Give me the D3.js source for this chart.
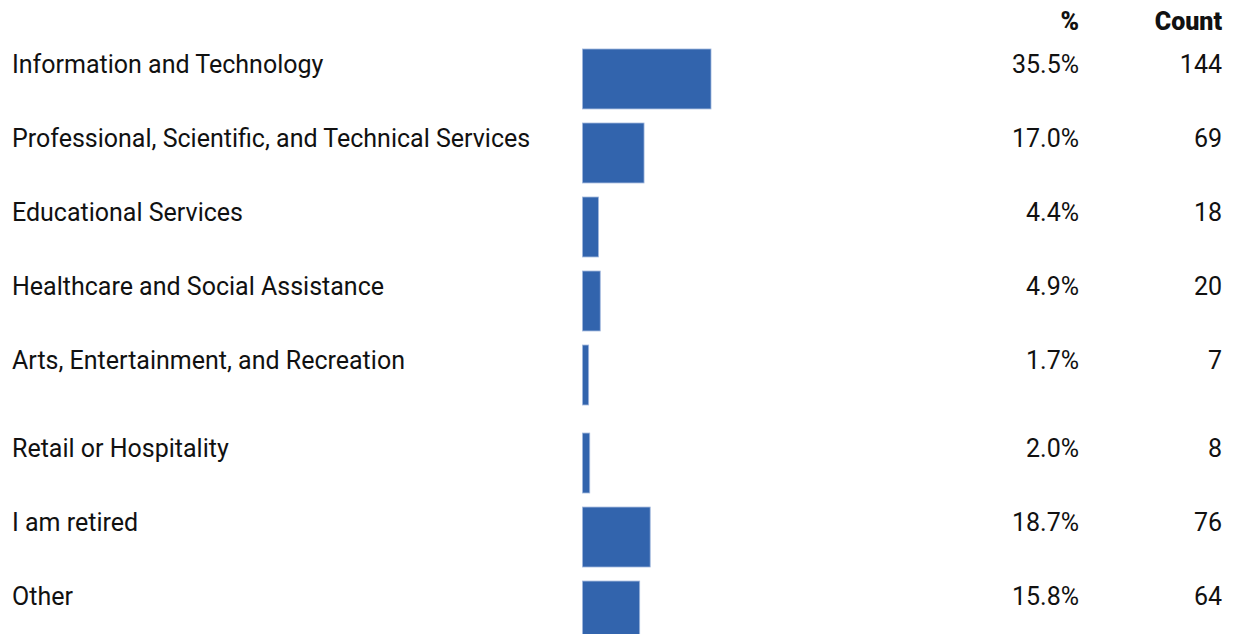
<!DOCTYPE html>
<html><head><meta charset="utf-8">
<script src="https://cdn.jsdelivr.net/npm/d3@7"></script>
<style>
html,body{margin:0;padding:0;background:#fff;overflow:hidden;}
text{font-family:Roboto,"Liberation Sans",Arial,sans-serif;fill:#111;}
</style></head>
<body>
<svg id="chart" width="1236" height="634"></svg>
<script>
const categories = [
  "Information and Technology",
  "Professional, Scientific, and Technical Services",
  "Educational Services",
  "Healthcare and Social Assistance",
  "Arts, Entertainment, and Recreation",
  "Retail or Hospitality",
  "I am retired",
  "Other"
];
const percents = [35.5, 17.0, 4.4, 4.9, 1.7, 2.0, 18.7, 15.8];
const counts = [144, 69, 18, 20, 7, 8, 76, 64];
const headers = ["%", "Count"];

const svg = d3.select("#chart");
const barX0 = 582.5;
const x = d3.scaleLinear().domain([0, 35.5]).range([barX0, 711]);
const y = d3.scaleBand().domain(categories).range([49, 49 + 74 * 7 + 60]).paddingInner(0.19).paddingOuter(0);
const extra = (i) => (i >= 5 ? 14 : 0);
const rowY = (d, i) => y(d) + extra(i);

const rows = categories.map((c, i) => ({c, p: percents[i], n: counts[i], i}));

svg.selectAll("rect.bar").data(rows).join("rect")
  .attr("class", "bar")
  .attr("x", x(0))
  .attr("y", d => rowY(d.c, d.i))
  .attr("width", d => x(d.p) - x(0))
  .attr("height", y.bandwidth())
  .attr("fill", "#3264ad")
  .attr("stroke", "#9fb6dc")
  .attr("stroke-width", 0.8);

const labelDy = -14.5;
const fs = 25;
svg.selectAll("text.lab").data(rows).join("text")
  .attr("class", "lab")
  .attr("x", 12)
  .attr("y", d => rowY(d.c, d.i) + y.bandwidth() / 2 + labelDy)
  .attr("dy", "0.35em")
  .style("font-size", fs + "px")
  .text(d => d.c);

svg.selectAll("text.pct").data(rows).join("text")
  .attr("class", "pct")
  .attr("x", 1079)
  .attr("y", d => rowY(d.c, d.i) + y.bandwidth() / 2 + labelDy)
  .attr("dy", "0.35em")
  .attr("text-anchor", "end")
  .style("font-size", fs + "px")
  .text(d => d3.format(".1f")(d.p) + "%");

svg.selectAll("text.cnt").data(rows).join("text")
  .attr("class", "cnt")
  .attr("x", 1222)
  .attr("y", d => rowY(d.c, d.i) + y.bandwidth() / 2 + labelDy)
  .attr("dy", "0.35em")
  .attr("text-anchor", "end")
  .style("font-size", fs + "px")
  .text(d => d.n);

svg.selectAll("text.hdr").data(headers).join("text")
  .attr("class", "hdr")
  .attr("x", (d, i) => i === 0 ? 1079 : 1222)
  .attr("y", 21)
  .attr("dy", "0.35em")
  .attr("text-anchor", "end")
  .style("font-size", fs + "px")
  .style("font-weight", "900")
  .text(d => d);
</script>
</body></html>
